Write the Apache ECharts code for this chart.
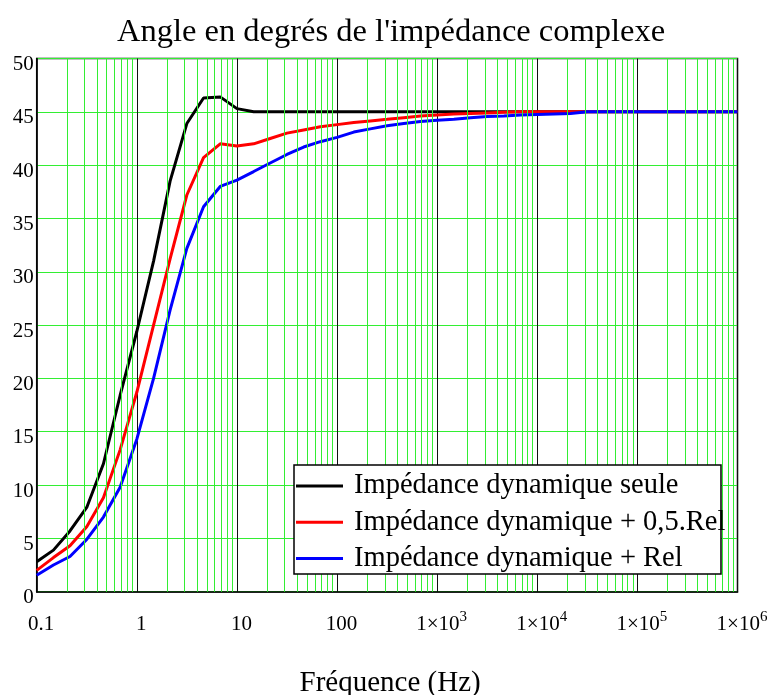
<!DOCTYPE html>
<html>
<head>
<meta charset="utf-8">
<script src="https://cdn.jsdelivr.net/npm/echarts@6/dist/echarts.min.js"></script>
<style>
  html, body { margin: 0; padding: 0; background: #fff; }
  #chart { width: 770px; height: 695px; }
</style>
</head>
<body>
<div id="chart"></div>
<script>
// Frequencies (Hz), six samples per decade
const frequencies = [
  0.1, 0.147, 0.215, 0.316, 0.464, 0.681,
  1, 1.47, 2.15, 3.16, 4.64, 6.81,
  10, 14.7, 21.5, 31.6, 46.4, 68.1,
  100, 147, 215, 316, 464, 681,
  1000, 1470, 2150, 3160, 4640, 6810,
  10000, 14700, 21500, 31600, 46400, 68100,
  100000, 147000, 215000, 316000, 464000, 681000,
  1000000
];

// Phase angle in degrees
const angleSeule = [
  2.8, 3.9, 5.7, 7.9, 12.0, 18.4,
  24.4, 31.0, 38.5, 43.9, 46.3, 46.4,
  45.3, 45.0, 45.0, 45.0, 45.0, 45.0,
  45.0, 45.0, 45.0, 45.0, 45.0, 45.0,
  45.0, 45.0, 45.0, 45.0, 45.0, 45.0,
  45.0, 45.0, 45.0, 45.0, 45.0, 45.0,
  45.0, 45.0, 45.0, 45.0, 45.0, 45.0,
  45.0
];
const angleDemiRel = [
  2.0, 3.2, 4.3, 6.1, 8.8, 13.3,
  18.7, 25.0, 31.2, 37.2, 40.7, 42.0,
  41.8, 42.0, 42.5, 43.0, 43.3, 43.6,
  43.8, 44.0, 44.15, 44.3, 44.45, 44.6,
  44.7, 44.8, 44.85, 44.9, 44.95, 45.0,
  45.0, 45.0, 45.0, 45.0, 45.0, 45.0,
  45.0, 45.0, 45.0, 45.0, 45.0, 45.0,
  45.0
];
const angleRel = [
  1.55, 2.5, 3.3, 4.9, 7.0, 9.8,
  14.3, 20.0, 26.4, 32.2, 36.1, 38.0,
  38.6, 39.4, 40.2, 41.0, 41.7, 42.2,
  42.6, 43.1, 43.4, 43.7, 43.9, 44.1,
  44.2, 44.3, 44.45, 44.55, 44.6, 44.7,
  44.75, 44.8, 44.85, 45.0, 45.0, 45.0,
  45.0, 45.0, 45.0, 45.0, 45.0, 45.0,
  45.0
];

const seriesNames = [
  'Impédance dynamique seule',
  'Impédance dynamique + 0,5.Rel',
  'Impédance dynamique + Rel'
];

// Decade tick labels (rich text for the exponents)
const xTickLabels = ['0.1', '1', '10', '100', '1×10{s|3}', '1×10{s|4}', '1×10{s|5}', '1×10{s|6}'];
const decades = [0.1, 1, 10, 100, 1000, 10000, 100000, 1000000];

// Minor (2..9) grid positions within each decade
const minorLines = [];
for (let i = 0; i < decades.length - 1; i++) {
  for (let m = 2; m <= 9; m++) minorLines.push(decades[i] * m);
}

const serif = "'Liberation Serif', 'Times New Roman', serif";
const green = '#33ee33';

function pairs(ys) { return frequencies.map((f, i) => [f, ys[i]]); }

const chart = echarts.init(document.getElementById('chart'), null, { renderer: 'canvas' });

chart.setOption({
  backgroundColor: '#ffffff',
  animation: false,
  title: {
    text: "Angle en degrés de l'impédance complexe",
    left: 112,
    top: 11,
    textStyle: { fontFamily: serif, fontSize: 32.5, fontWeight: 'normal', color: '#000' }
  },
  grid: {
    left: 36.7, right: 32.5, top: 58.5, bottom: 103.3,
    outerBoundsMode: 'none',
    containLabel: false,
    show: true, borderColor: '#000', borderWidth: 1.5, backgroundColor: 'transparent'
  },
  xAxis: {
    type: 'log',
    logBase: 10,
    min: 0.1,
    max: 1000000,
    interval: 1,
    name: 'Fréquence (Hz)',
    nameLocation: 'middle',
    nameGap: 77,
    nameTextStyle: { fontFamily: serif, fontSize: 29, color: '#000', padding: [0, 0, 0, 6] },
    axisLine: { show: true, lineStyle: { color: '#000', width: 1.5 } },
    axisTick: { show: false },
    splitLine: { show: true, lineStyle: { color: '#111', width: 1 } },
    axisLabel: {
      margin: 17,
      fontFamily: serif,
      fontSize: 21,
      lineHeight: 32,
      color: '#000',
      padding: [0, 0, 0, 9],
      formatter: function (v) {
        const idx = Math.round(Math.log10(v)) + 1;
        return xTickLabels[idx] !== undefined ? xTickLabels[idx] : '';
      },
      rich: {
        s: { fontFamily: serif, fontSize: 15, lineHeight: 15, color: '#000', padding: [0, 0, 15, 0] }
      }
    }
  },
  yAxis: {
    type: 'value',
    min: 0,
    max: 50,
    interval: 5,
    axisLine: { show: true, lineStyle: { color: '#000', width: 1.5 } },
    axisTick: { show: false },
    splitLine: { show: true, lineStyle: { color: green, width: 1 } },
    axisLabel: {
      margin: 3,
      fontFamily: serif,
      fontSize: 21,
      color: '#000',
      verticalAlign: 'top',
      lineHeight: 12
    }
  },
  legend: {
    orient: 'vertical',
    left: 296,
    top: 471.5,
    padding: 0,
    itemWidth: 47,
    itemHeight: 3,
    itemGap: 7.2,
    icon: 'rect',
    z: 10,
    selectedMode: false,
    textStyle: { fontFamily: serif, fontSize: 28.5, color: '#000', lineHeight: 28.5, padding: [0, 0, 0, 6] },
    data: seriesNames
  },
  graphic: [{
    type: 'rect',
    z: 8,
    shape: { x: 294, y: 465, width: 427, height: 109 },
    style: { fill: '#fff', stroke: '#000', lineWidth: 1.5 }
  }],
  series: [
    {
      type: 'line',
      name: 'grille',
      data: [],
      z: 1,
      silent: true,
      markLine: {
        silent: true,
        symbol: 'none',
        label: { show: false },
        lineStyle: { color: green, width: 1, type: 'solid' },
        emphasis: { disabled: true },
        data: minorLines.map(v => ({ xAxis: v }))
      }
    },
    {
      type: 'line', name: seriesNames[0], data: pairs(angleSeule), z: 3,
      showSymbol: false, lineStyle: { color: '#000', width: 3 }, itemStyle: { color: '#000' }
    },
    {
      type: 'line', name: seriesNames[1], data: pairs(angleDemiRel), z: 3,
      showSymbol: false, lineStyle: { color: '#ff0000', width: 3 }, itemStyle: { color: '#ff0000' }
    },
    {
      type: 'line', name: seriesNames[2], data: pairs(angleRel), z: 3,
      showSymbol: false, lineStyle: { color: '#0000ff', width: 3 }, itemStyle: { color: '#0000ff' }
    }
  ]
});
</script>
</body>
</html>
